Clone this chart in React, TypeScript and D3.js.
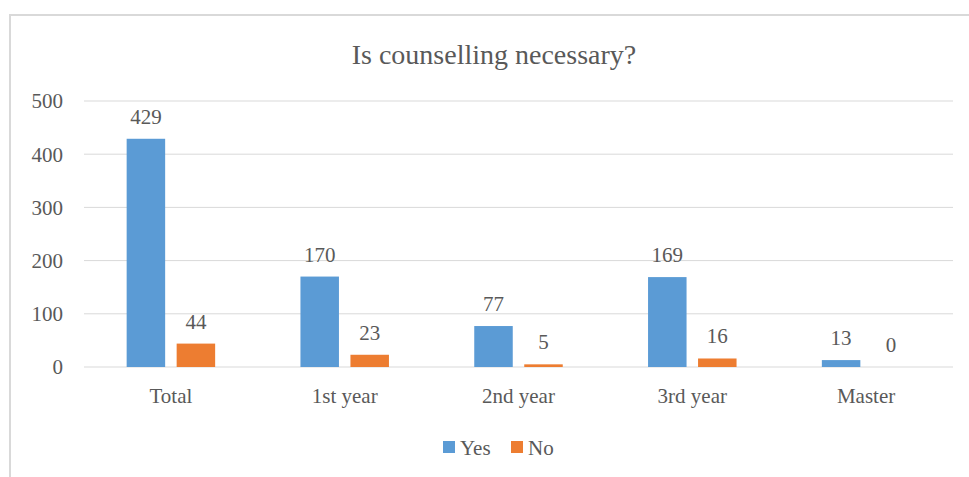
import React from "react";
import * as d3 from "d3";

const categories = ["Total", "1st year", "2nd year", "3rd year", "Master"];
const seriesNames = ["Yes", "No"];
const yesValues = [429, 170, 77, 169, 13];
const noValues = [44, 23, 5, 16, 0];
const yTicks = [0, 100, 200, 300, 400, 500];
const title = "Is counselling necessary?";

const colors: Record<string, string> = { Yes: "#5B9BD5", No: "#ED7D31" };
const W = 969;
const H = 477;
const FONT = "'Liberation Serif', 'Times New Roman', serif";
const TXT = "#595959";
const GRID = "#D9D9D9";

export default function App() {
  const x0 = d3.scaleBand<string>().domain(categories).range([84, 953]).padding(0);
  const x1 = d3
    .scaleBand<string>()
    .domain(seriesNames)
    .range([0, x0.bandwidth()])
    .paddingInner(0.23)
    .paddingOuter(0.853);
  const y = d3.scaleLinear().domain([0, 500]).range([367, 101]);

  const seriesValues: Record<string, number[]> = { Yes: yesValues, No: noValues };

  return (
    <svg
      width={W}
      height={H}
      style={{ position: "absolute", left: 0, top: 0, background: "#fff" }}
      fontFamily={FONT}
    >
      <rect x={0} y={0} width={W} height={H} fill="#fff" />
      {/* chart border */}
      <line x1={10} y1={14} x2={10} y2={H} stroke={GRID} strokeWidth={2} />
      <line x1={9} y1={15} x2={W} y2={15} stroke={GRID} strokeWidth={2} />

      <text x={494} y={64} textAnchor="middle" fontSize={28} fill={TXT}>
        {title}
      </text>

      {yTicks.map((t) => (
        <g key={t}>
          <line x1={84} x2={953} y1={y(t)} y2={y(t)} stroke={GRID} strokeWidth={1} />
          <text x={63} y={y(t)} dy="0.35em" textAnchor="end" fontSize={21} fill={TXT}>
            {t}
          </text>
        </g>
      ))}

      {categories.map((c, i) => (
        <g key={c} transform={`translate(${x0(c)},0)`}>
          {seriesNames.map((s) => {
            const v = seriesValues[s][i];
            const bx = x1(s) as number;
            return (
              <g key={s}>
                <rect
                  x={bx}
                  y={y(v)}
                  width={x1.bandwidth()}
                  height={y(0) - y(v)}
                  fill={colors[s]}
                />
                <text
                  x={bx + x1.bandwidth() / 2}
                  y={y(v) - 15}
                  textAnchor="middle"
                  fontSize={21}
                  fill={TXT}
                >
                  {v}
                </text>
              </g>
            );
          })}
          <text
            x={x0.bandwidth() / 2}
            y={403}
            textAnchor="middle"
            fontSize={21}
            fill={TXT}
          >
            {c}
          </text>
        </g>
      ))}

      {/* legend */}
      <g>
        <rect x={443} y={441} width={12} height={12} fill={colors.Yes} />
        <text x={460} y={455} fontSize={21} fill={TXT}>
          {seriesNames[0]}
        </text>
        <rect x={511} y={441} width={12} height={12} fill={colors.No} />
        <text x={528} y={455} fontSize={21} fill={TXT}>
          {seriesNames[1]}
        </text>
      </g>
    </svg>
  );
}
